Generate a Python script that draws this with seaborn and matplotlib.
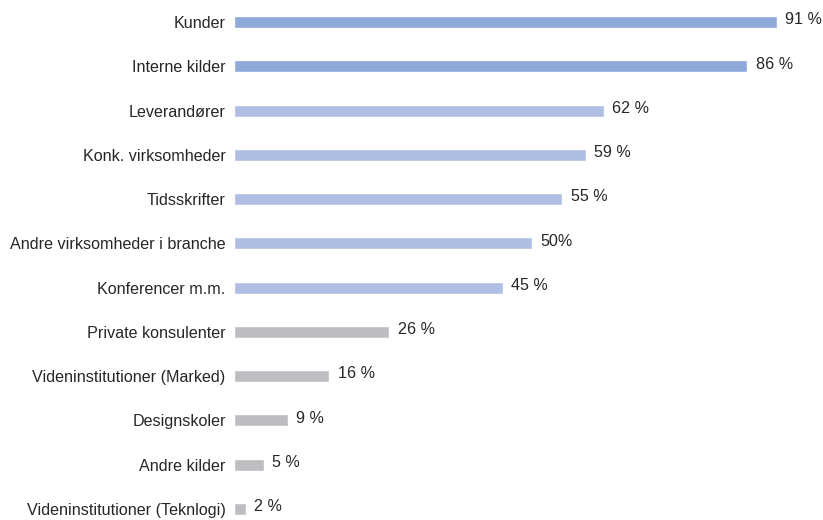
import matplotlib
matplotlib.use("Agg")
import matplotlib.pyplot as plt
import seaborn as sns
import pandas as pd

categories = [
    "Kunder", "Interne kilder", "Leverandører", "Konk. virksomheder",
    "Tidsskrifter", "Andre virksomheder i branche", "Konferencer m.m.",
    "Private konsulenter", "Videninstitutioner (Marked)", "Designskoler",
    "Andre kilder", "Videninstitutioner (Teknlogi)",
]
values = [91, 86, 62, 59, 55, 50, 45, 26, 16, 9, 5, 2]
value_labels = ["91 %", "86 %", "62 %", "59 %", "55 %", "50%", "45 %",
                "26 %", "16 %", "9 %", "5 %", "2 %"]
groups = ["top"] * 2 + ["mid"] * 5 + ["low"] * 5

group_colors = {"top": "#8EA9DA", "mid": "#AFBEE3", "low": "#BEBEC2"}

sns.set_theme(style="white")
plt.rcParams["font.family"] = ["Liberation Sans", "DejaVu Sans"]

df = pd.DataFrame({"kilde": categories, "andel": values, "gruppe": groups})

fig = plt.figure(figsize=(8.23, 5.2), dpi=100)
ax = fig.add_axes([234 / 823, 0.0, 566.9 / 823, 1.0])

sns.barplot(data=df, y="kilde", x="andel", hue="gruppe",
            palette=group_colors, dodge=False, width=0.27, saturation=1,
            legend=False, ax=ax, orient="h")

ax.set_xlim(0, 95)
ax.set_ylim(11.248, -0.497)
ax.set_xlabel("")
ax.set_ylabel("")
ax.set_xticks([])
ax.tick_params(axis="y", length=0, pad=6, labelsize=11.6, labelcolor="#262626")
for s in ax.spines.values():
    s.set_visible(False)

for i, (v, lab) in enumerate(zip(values, value_labels)):
    ax.text(v + 1.4, i - 0.05, lab, va="center", ha="left",
            fontsize=11.6, color="#262626", clip_on=False)

fig.savefig("out.png", dpi=100)
